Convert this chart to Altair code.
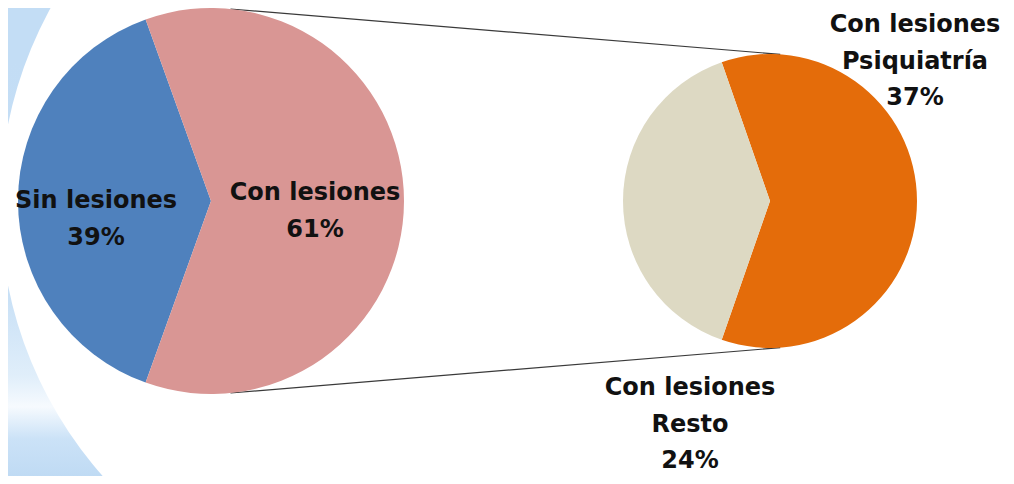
import math
import altair as alt
import pandas as pd

# ---- data ----
main_labels = ["Sin lesiones", "Con lesiones"]
main_values = [39, 61]
main_colors = ["#4F81BD", "#D99694"]

sub_labels = ["Con lesiones\nPsiquiatría", "Con lesiones\nResto"]
sub_values = [37, 24]
sub_colors = ["#E46C0A", "#DDD9C3"]

# ---- layout (chart pixel space, page offset 8px) ----
W, H = 998, 468
L_CX, L_CY, L_R = 203, 193, 193
R_CX, R_CY, R_R = 762, 193, 147
FONT = "DejaVu Sans"


def pie_frame(labels, values, colors, first):
    # `first` slice drawn starting clockwise from where the other slice (centred left) ends
    other = 1 - first
    total = sum(values)
    start = 1.5 * math.pi + math.pi * values[other] / total
    order = [0, 0]
    order[first] = 1
    order[other] = 2
    df = pd.DataFrame({"label": labels, "value": values, "color": colors, "ord": order})
    return df, [start, start + 2 * math.pi]


# background decorative band
bg = alt.Chart(alt.Data(values=[{"k": 1}])).mark_arc(
    radius=900, radius2=409, theta=math.pi, theta2=2 * math.pi,
    fill=alt.LinearGradient(
        gradient="linear", x1=0, x2=0, y1=0, y2=1,
        stops=[
            alt.GradientStop(color="#C3DDF5", offset=0.0),
            alt.GradientStop(color="#C3DDF5", offset=0.42),
            alt.GradientStop(color="#C8E0F6", offset=0.55),
            alt.GradientStop(color="#E0EEFA", offset=0.595),
            alt.GradientStop(color="#F6FAFE", offset=0.612),
            alt.GradientStop(color="#CBE2F7", offset=0.63),
            alt.GradientStop(color="#BAD7F2", offset=0.66),
            alt.GradientStop(color="#BAD7F2", offset=1.0),
        ],
    ),
    stroke=None,
).encode(x=alt.value(401), y=alt.value(197))

# connector lines
def pt(cx, cy, r, deg):
    a = math.radians(deg)
    return cx + r * math.sin(a), cy - r * math.cos(a)

lt = pt(L_CX, L_CY, L_R, 5.8)
rt = pt(R_CX, R_CY, R_R, 4.0)
lb = pt(L_CX, L_CY, L_R, 174.2)
rb = pt(R_CX, R_CY, R_R, 176.0)

line_top = alt.Chart(alt.Data(values=[{"k": 1}])).mark_rule(color="#3A3A3A", strokeWidth=1.2).encode(
    x=alt.value(lt[0]), y=alt.value(lt[1]), x2=alt.value(rt[0]), y2=alt.value(rt[1]))
line_bot = alt.Chart(alt.Data(values=[{"k": 1}])).mark_rule(color="#3A3A3A", strokeWidth=1.2).encode(
    x=alt.value(lb[0]), y=alt.value(lb[1]), x2=alt.value(rb[0]), y2=alt.value(rb[1]))

# left pie
ldf, lrange = pie_frame(main_labels, main_values, main_colors, first=1)
left = alt.Chart(ldf).mark_arc(radius=L_R, stroke=None).encode(
    theta=alt.Theta("value:Q", stack=True, scale=alt.Scale(range=lrange)),
    color=alt.Color("color:N", scale=None),
    order=alt.Order("ord:Q"),
    x=alt.value(L_CX), y=alt.value(L_CY),
)

# right pie
rdf, rrange = pie_frame(sub_labels, sub_values, sub_colors, first=0)
right = alt.Chart(rdf).mark_arc(radius=R_R, stroke=None).encode(
    theta=alt.Theta("value:Q", stack=True, scale=alt.Scale(range=rrange)),
    color=alt.Color("color:N", scale=None),
    order=alt.Order("ord:Q"),
    x=alt.value(R_CX), y=alt.value(R_CY),
)

# labels (y = first line's centre)
lab_pos = [(88, 193), (307, 185)]
sub_pos = [(907, 17), (682, 380)]
labels = []
for name, val, (px, py) in zip(main_labels + sub_labels, main_values + sub_values, lab_pos + sub_pos):
    txt = alt.Chart(alt.Data(values=[{"t": f"{name}\n{val}%"}])).mark_text(
        font=FONT, fontSize=24, fontWeight="bold", color="#111111",
        lineBreak="\n", lineHeight=36.5, align="center", baseline="middle",
    ).encode(text="t:N", x=alt.value(px), y=alt.value(py))
    labels.append(txt)

chart = alt.layer(bg, line_top, line_bot, left, right, *labels).resolve_scale(
    theta="independent"
).properties(
    width=W, height=H, autosize=alt.AutoSizeParams(type="none"), padding=0
).configure_view(stroke=None)

chart.save("out.html", embed_options={"renderer": "svg", "actions": False})
